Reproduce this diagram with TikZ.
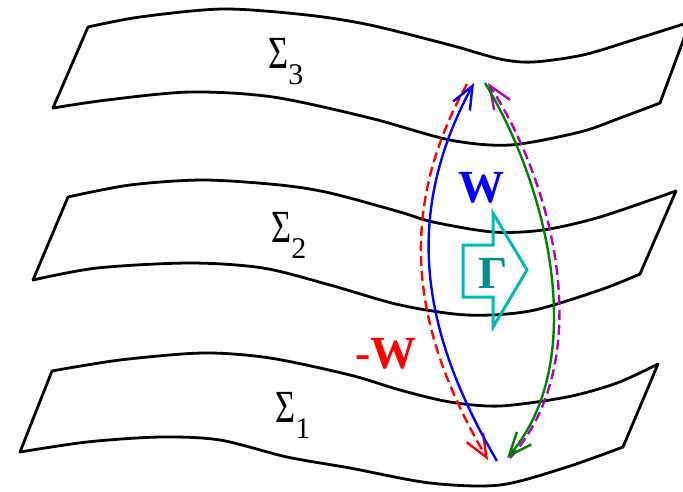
\documentclass[tikz,border=0pt]{standalone}
\usepackage{fontspec}
\setmainfont{Liberation Serif}
\usetikzlibrary{arrows.meta}
\definecolor{wblue}{RGB}{0,0,255}
\definecolor{wgreen}{RGB}{0,130,0}
\definecolor{wred}{RGB}{255,0,0}
\definecolor{wmag}{RGB}{180,0,190}
\definecolor{gline}{RGB}{0,185,185}
\definecolor{gtext}{RGB}{0,140,140}
\tikzset{
  sheet/.style     = {draw, line width=2.8pt, line join=round},
  wpath/.style     = {line width=2.4pt, -{Straight Barb[length=23pt,width=19pt]}},
  dashpath/.style  = {wpath, dash pattern=on 10pt off 5pt},
  biglabel/.style  = {font=\fontsize{46}{50}\selectfont\bfseries, inner sep=0pt},
  sheetlabel/.style= {font=\fontsize{46}{50}\selectfont, inner sep=0pt, anchor=base west},
}
\newcommand{\sheetname}[1]{\scalebox{0.75}[1]{Σ}\raisebox{-16pt}{\fontsize{30}{30}\selectfont #1}}

\begin{document}
\begin{tikzpicture}[x=1pt,y=-1pt]
\useasboundingbox[fill=white] (0,0) rectangle (683,491);
\draw[sheet] plot[smooth] coordinates {(88,27) (140,17) (223,9) (307,15) (370,25) (450,45) (500,59) (533,62) (583,55) (633,40) (690,22)}
  -- plot[smooth] coordinates {(660,103) (620,118) (580,132) (510,145) (450,140) (370,118) (273,97) (190,92) (107,100) (53,108)} -- cycle;
\draw[sheet] plot[smooth] coordinates {(68,197) (130,185) (203,180) (280,185) (330,193) (400,212) (433,222) (493,232) (543,230) (600,217) (676,191)}
  -- plot[smooth] coordinates {(640,274) (600,290) (530,311) (467,315) (400,305) (330,285) (263,268) (190,263) (97,268) (33,280)} -- cycle;
\draw[sheet] plot[smooth] coordinates {(52,371) (120,360) (203,353) (270,358) (350,375) (400,390) (450,402) (500,406) (567,397) (617,383) (658,364)}
  -- plot[smooth] coordinates {(623,447) (567,467) (500,485) (430,483) (350,468) (287,457) (220,440) (160,437) (87,442) (20,452)} -- cycle;
\node[sheetlabel] (s3) at (268,68) {\sheetname{3}};
\node[sheetlabel] (s2) at (271,242) {\sheetname{2}};
\node[sheetlabel] (s1) at (275,422) {\sheetname{1}};
\draw[gline, line width=3pt, line join=miter] (463,245) -- (493,245) -- (493,213) -- (527,270) -- (493,327) -- (493,297) -- (463,297) -- cycle;
\node[biglabel, text=gtext] (gamma) at (493,273) {Γ};
\coordinate (wbot) at (497,461);
\coordinate (wtop) at (474,83);
\coordinate (gtop) at (485,83);
\coordinate (gbot) at (507,458);
\coordinate (rtop) at (467,84);
\coordinate (rbot) at (488,460);
\coordinate (mbot) at (510,458);
\coordinate (mtop) at (488,83);
\draw[dashpath, wred] (rtop) .. controls (395,214) and (412,330) .. (rbot);
\draw[dashpath, wmag] (mbot) .. controls (596,363) and (557,190) .. (mtop);
\draw[wpath, wblue] (wbot) .. controls (420,330) and (403,214) .. (wtop);
\draw[wpath, wgreen] (gtop) .. controls (550,190) and (589,363) .. (gbot);
\node[biglabel, text=wblue] (wlab) at (481,188) {W};
\node[biglabel, text=wred] (mwlab) at (386,354) {-W};
\end{tikzpicture}
\end{document}
